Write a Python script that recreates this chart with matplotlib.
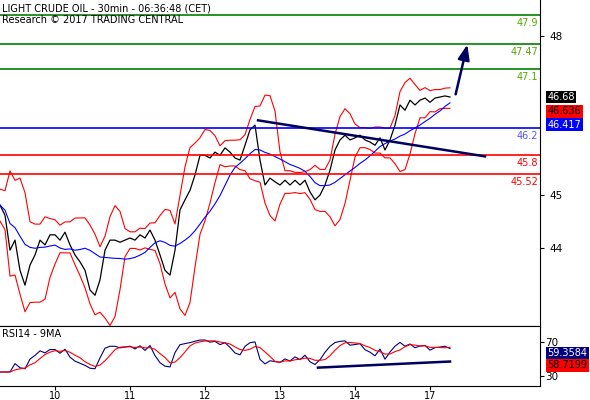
import numpy as np, pandas as pd
import matplotlib
matplotlib.use("Agg")
import matplotlib.pyplot as plt

closes = [44.81,44.62,43.96,44.15,43.58,43.30,43.68,43.87,44.15,44.06,44.25,44.25,44.15,44.30,44.06,
          43.87,43.74,43.58,43.21,43.11,43.40,43.96,44.15,44.15,44.11,44.15,44.19,44.15,44.25,44.19,
          44.34,44.15,43.87,43.58,43.49,43.96,44.72,44.91,45.09,45.38,45.75,45.75,45.70,45.81,45.75,
          45.89,45.81,45.70,45.66,45.94,46.23,46.32,45.66,45.19,45.32,45.25,45.19,45.28,45.19,45.28,
          45.19,45.28,45.06,44.91,45.00,45.19,45.47,45.85,46.04,46.13,46.04,46.08,46.13,46.04,46.00,
          45.94,46.08,45.85,46.04,46.32,46.70,46.60,46.79,46.70,46.79,46.83,46.75,46.83,46.85,46.87,46.85]
day_labels = ["10","11","12","13","14","17"]
day_pos = [11,26,41,56,71,86]
levels = [48.40,47.85,47.38,46.26,45.75,45.40]
level_labels = ["47.9","47.47","47.1","46.2","45.8","45.52"]
level_colors = ["#008000","#008000","#008000","#0000ff","#ff0000","#ff0000"]
label_colors = ["#55aa00","#55aa00","#55aa00","#5555ff","#ff0000","#ff0000"]

s = pd.Series(closes)
x = np.arange(len(closes))
mid = s.rolling(5, min_periods=1, center=False).mean()
sd = s.rolling(5, min_periods=2).std().fillna(0.1)
ma = s.rolling(12, min_periods=1).mean()
d = s.diff().fillna(0)
up = d.clip(lower=0).ewm(alpha=1/4).mean(); dn = (-d.clip(upper=0)).ewm(alpha=1/4).mean()
rsi = 100 - 100/(1+up/(dn+1e-9)); rsi = 55 + (rsi-50)*0.4
rsima = rsi.rolling(4, min_periods=1).mean()

fig = plt.figure(figsize=(5.9,4.0), dpi=100)
ax = fig.add_axes([0,0.185,540/590,0.815])
ax2 = fig.add_axes([0,0.035,540/590,0.15])
for a in (ax, ax2):
    a.set_xlim(0,108)
    a.yaxis.tick_right()
    for sp in ["left","top"]: a.spines[sp].set_visible(False)
    a.tick_params(labelsize=7.5, length=3)
ax.set_ylim(42.53,48.68)
ax.set_yticks([44,45,48]); ax.set_xticks([])
ax.plot(x, closes, color="black", lw=0.9)
ax.plot(x, mid+2*sd+0.1, color="red", lw=0.8); ax.plot(x, mid-2*sd-0.1, color="red", lw=0.8)
ax.plot(x, ma, color="blue", lw=0.8)
for v,l,c,lc in zip(levels,level_labels,level_colors,label_colors):
    ax.axhline(v, color=c, lw=1.2)
    ax.text(107.6, v-0.06, l, color=lc, fontsize=7, ha="right", va="top")
ax.plot([51.6,97],[46.41,45.73], color="#000060", lw=1.8)
ax.annotate("", xy=(93.6,47.89), xytext=(91,46.85),
            arrowprops=dict(arrowstyle="-|>,head_width=0.35,head_length=0.9", color="#000060", lw=1.8))
ax.text(0.5,48.62,"LIGHT CRUDE OIL - 30min - 06:36:48 (CET)", fontsize=7, va="top")
ax.text(0.5,48.40,"Research © 2017 TRADING CENTRAL", fontsize=7, va="top")
for v,t,fc,tc in [(46.85,"46.68","black","white"),(46.58,"46.636","red","black"),(46.33,"46.417","blue","white")]:
    ax.text(109.5, v, t, fontsize=7, color=tc, va="center", ha="left", clip_on=False,
            bbox=dict(boxstyle="square,pad=0.15", fc=fc, ec="none"))

ax2.set_ylim(18.9,87.8)
ax2.set_yticks([30,70])
ax2.set_xticks(day_pos); ax2.set_xticklabels(day_labels)
ax2.tick_params(axis="x", pad=0.5, labelsize=7)
ax2.tick_params(axis="y", pad=1)
ax2.spines["top"].set_visible(True)
ax2.plot(x, rsi, color="#000080", lw=0.8)
ax2.plot(x, rsima, color="red", lw=0.8)
ax2.plot([63.6,90],[40,47], color="#000060", lw=1.8)
ax2.text(0.5,84,"RSI14 - 9MA", fontsize=7, va="top")
for v,t,fc,tc in [(56.5,"59.3584","#000080","white"),(42.5,"58.7199","red","black")]:
    ax2.text(109.5, v, t, fontsize=7, color=tc, va="center", ha="left", clip_on=False,
             bbox=dict(boxstyle="square,pad=0.15", fc=fc, ec="none"))
fig.savefig("out.png", dpi=100)
